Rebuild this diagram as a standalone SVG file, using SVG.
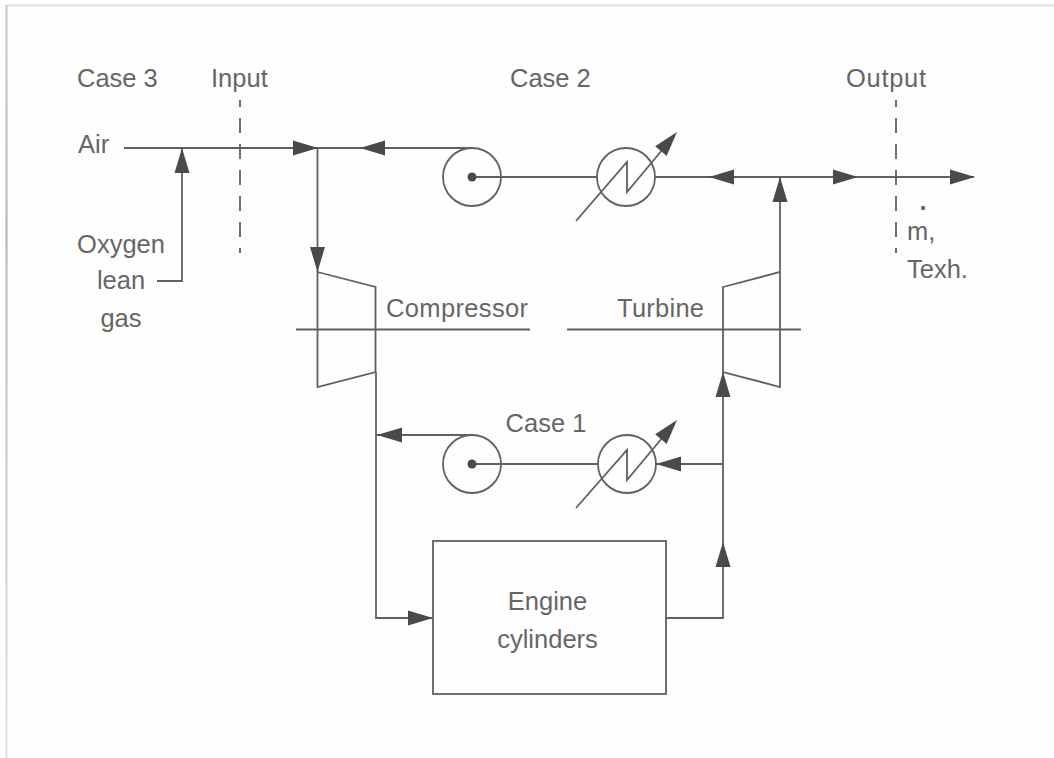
<svg xmlns="http://www.w3.org/2000/svg" width="1054" height="758" viewBox="0 0 1054 758">
<style>
.l{fill:none;stroke:#606060;stroke-width:1.8;stroke-linejoin:miter}
.d{stroke-dasharray:15 11;stroke-dashoffset:8}
.h{fill:#4a4a4a;stroke:none}
.t{font-family:"Liberation Sans",Arial,sans-serif;font-size:25.500px;fill:#666}
.m{text-anchor:middle}
</style>
<defs>
<path id="ar" class="h" d="M0 0L-25 -7.500V7.500Z"/>
<linearGradient id="edge" gradientUnits="userSpaceOnUse" x1="0" y1="5" x2="0" y2="758">
<stop offset="0" stop-color="#c8c8c8"/>
<stop offset="0.3" stop-color="#b4b4b4"/>
<stop offset="1" stop-color="#e2e2e2"/>
</linearGradient>
</defs>
<rect width="1054" height="758" fill="#fefefe"/>
<path d="M6 5.500H1054" fill="none" stroke="#e0e0e0" stroke-width="2"/>
<rect x="5.500" y="5" width="2" height="753" fill="url(#edge)"/>
<g id="connectors">
<path class="l" d="M124 148H472"/>
<path class="l" d="M157 281H182V148"/>
<path class="l" d="M317.500 148V272"/>
<path class="l d" d="M240 100V253"/>
<path class="l" d="M472 177H597M655 177H974"/>
<path class="l d" d="M896 100V253"/>
<path class="l" d="M780 272V177"/>
<path class="l" d="M296 329.500H530M567 329.500H801"/>
<path class="l" d="M376 372V618H433"/>
<path class="l" d="M377 435H472"/>
<path class="l" d="M472 464H598M656 464H723"/>
<path class="l" d="M666 618H723V372"/>
<use href="#ar" transform="translate(182 148) rotate(-90)"/>
<use href="#ar" transform="translate(318 148)"/>
<use href="#ar" transform="translate(360 148) rotate(180)"/>
<use href="#ar" transform="translate(317.500 272) rotate(90)"/>
<use href="#ar" transform="translate(709 177) rotate(180)"/>
<use href="#ar" transform="translate(858 177)"/>
<use href="#ar" transform="translate(975 177)"/>
<use href="#ar" transform="translate(780 177) rotate(-90)"/>
<use href="#ar" transform="translate(723 372) rotate(-90)"/>
<use href="#ar" transform="translate(377 435) rotate(180)"/>
<use href="#ar" transform="translate(656 464) rotate(180)"/>
<use href="#ar" transform="translate(723 542) rotate(-90)"/>
<use href="#ar" transform="translate(433 618)"/>
</g>
<g id="compressor"><path class="l" d="M317.500 272L375.500 287V372L317.500 387Z"/><text class="t" x="386" y="317" textLength="142">Compressor</text></g>
<g id="turbine"><path class="l" d="M723 287L780 272V387L723 372Z"/><text class="t" x="617" y="317" textLength="87">Turbine</text></g>
<g id="pump-top"><circle class="l" cx="472" cy="177" r="29"/><circle class="h" cx="472" cy="177" r="4.500"/></g>
<g id="heater-top"><circle class="l" cx="626" cy="177" r="29"/><path class="l" d="M576 221L627 162V192L668 143"/><use href="#ar" transform="translate(677 132) rotate(-50)"/></g>
<g id="pump-bottom"><circle class="l" cx="472" cy="464" r="29"/><circle class="h" cx="472" cy="464" r="4.500"/></g>
<g id="heater-bottom"><circle class="l" cx="627" cy="464" r="29"/><path class="l" d="M576 508L627 450V480L668 431"/><use href="#ar" transform="translate(677 420) rotate(-50)"/></g>
<g id="engine"><rect class="l" x="433" y="541" width="233" height="153"/><text class="t m" x="547.500" y="610">Engine</text><text class="t m" x="547.500" y="648">cylinders</text></g>
<g id="labels">
<text class="t" x="77" y="87">Case 3</text>
<text class="t" x="211" y="87">Input</text>
<text class="t" x="510" y="87">Case 2</text>
<text class="t" x="846" y="87" textLength="80">Output</text>
<text class="t" x="78" y="153">Air</text>
<text class="t m" x="121" y="253">Oxygen</text>
<text class="t m" x="121" y="289">lean</text>
<text class="t m" x="121" y="327">gas</text>
<text class="t m" x="546" y="432">Case 1</text>
<text class="t" x="919.500" y="210" font-weight="bold">.</text>
<text class="t" x="907" y="240">m,</text>
<text class="t" x="907" y="278">Texh.</text>
</g>
</svg>
